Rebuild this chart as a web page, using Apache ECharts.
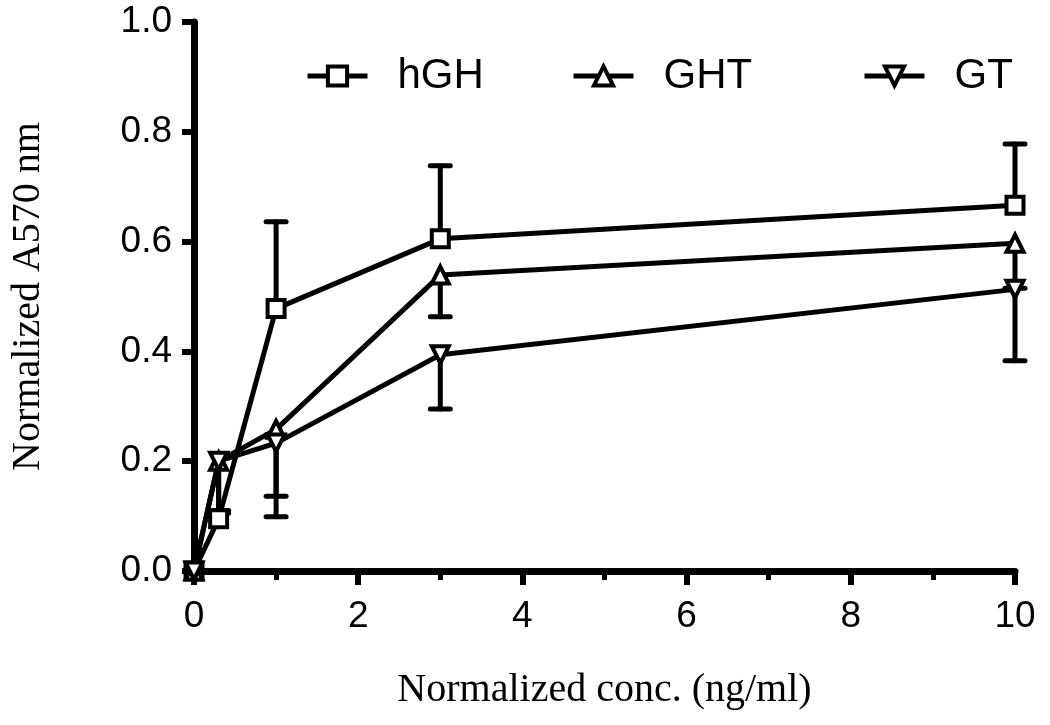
<!DOCTYPE html>
<html>
<head>
<meta charset="utf-8">
<script src="https://cdn.jsdelivr.net/npm/echarts@6/dist/echarts.min.js"></script>
<style>
  html, body { margin: 0; padding: 0; background: #fff; }
  #chart { width: 1050px; height: 725px; }
</style>
</head>
<body>
<div id="chart"></div>
<script>
  // concentrations (ng/ml)
  var conc = [0, 0.3, 1, 3, 10]
  var seriesNames = ['hGH', 'GHT', 'GT']
  // normalized A570 means
  var hGH = [0, 0.095, 0.478, 0.605, 0.666]
  var GHT = [0, 0.2, 0.258, 0.539, 0.597]
  var GT = [0, 0.2, 0.233, 0.394, 0.513]
  // error bar ends (hGH drawn above, GHT / GT drawn below)
  var hGHErr = [null, null, 0.636, 0.738, 0.778]
  var GHTErr = [null, 0.11, 0.136, 0.463, 0.515]
  var GTErr = [null, 0.105, 0.099, 0.295, 0.383]
  var yTicks = ['0.0', '0.2', '0.4', '0.6', '0.8', '1.0']

  var chart = echarts.init(document.getElementById('chart'))

  function pairs (ys) {
    return conc.map(function (x, i) { return [x, ys[i]] })
  }

  function errData (ys, ends) {
    var out = []
    conc.forEach(function (x, i) {
      if (ends[i] != null) out.push([x, ys[i], ends[i]])
    })
    return out
  }

  function renderErr (params, api) {
    var p0 = api.coord([api.value(0), api.value(1)])
    var p1 = api.coord([api.value(0), api.value(2)])
    var capHalf = 10
    var style = { stroke: '#000', lineWidth: 5, lineCap: 'round' }
    return {
      type: 'group',
      children: [
        { type: 'line', shape: { x1: p0[0], y1: p0[1], x2: p1[0], y2: p1[1] }, style: style },
        { type: 'line', shape: { x1: p1[0] - capHalf, y1: p1[1], x2: p1[0] + capHalf, y2: p1[1] }, style: style }
      ]
    }
  }

  function lineSeries (name, ys, symbol, rotate) {
    return {
      name: name,
      type: 'line',
      data: pairs(ys),
      symbol: symbol,
      symbolSize: 17,
      symbolRotate: rotate || 0,
      showAllSymbol: true,
      clip: false,
      z: 3,
      lineStyle: { color: '#000', width: 5 },
      itemStyle: { color: '#fff', borderColor: '#000', borderWidth: 4 }
    }
  }

  function errSeries (ys, ends) {
    return {
      type: 'custom',
      data: errData(ys, ends),
      renderItem: renderErr,
      encode: { x: 0, y: [1, 2] },
      clip: false,
      silent: true,
      z: 2
    }
  }

  var legendBase = {
    orient: 'horizontal',
    top: 50,
    itemWidth: 60,
    itemHeight: 24,
    selectedMode: false,
    lineStyle: { color: '#000', width: 5 },
    itemStyle: { color: '#fff', borderColor: '#000', borderWidth: 4 },
    textStyle: {
      fontFamily: 'Liberation Sans',
      fontSize: 42,
      color: '#000',
      padding: [0, 0, 0, 25]
    }
  }

  var option = {
    animation: false,
    backgroundColor: '#fff',
    grid: { left: 193, right: 35, top: 22, bottom: 154 },
    legend: [
      Object.assign({}, legendBase, { left: 300, data: [seriesNames[0]] }),
      Object.assign({}, legendBase, { left: 566, data: [seriesNames[1]] }),
      Object.assign({}, legendBase, { left: 857, data: [seriesNames[2]] })
    ],
    xAxis: {
      type: 'value',
      min: 0,
      max: 10,
      interval: 2,
      name: 'Normalized conc. (ng/ml)',
      nameLocation: 'middle',
      nameGap: 99,
      nameTextStyle: { fontFamily: 'Liberation Serif', fontSize: 40, color: '#000' },
      axisLine: { lineStyle: { color: '#000', width: 7 } },
      axisTick: { inside: false, length: 14, lineStyle: { color: '#000', width: 6 } },
      minorTick: { show: true, splitNumber: 2, length: 9, lineStyle: { color: '#000', width: 5 } },
      splitLine: { show: false },
      axisLabel: { margin: 27, fontFamily: 'Liberation Sans', fontSize: 37, color: '#000' }
    },
    yAxis: {
      type: 'value',
      min: 0,
      max: 1,
      interval: 0.2,
      name: 'Normalized A570 nm',
      nameLocation: 'middle',
      nameRotate: 90,
      nameGap: 146,
      nameTextStyle: { fontFamily: 'Liberation Serif', fontSize: 40, color: '#000' },
      axisLine: { show: true, lineStyle: { color: '#000', width: 7 } },
      axisTick: { show: true, inside: false, length: 12, lineStyle: { color: '#000', width: 6 } },
      splitLine: { show: false },
      axisLabel: {
        margin: 22,
        fontFamily: 'Liberation Sans',
        fontSize: 37,
        color: '#000',
        formatter: function (v) { return yTicks[Math.round(v * 5)] }
      }
    },
    series: [
      errSeries(hGH, hGHErr),
      errSeries(GHT, GHTErr),
      errSeries(GT, GTErr),
      lineSeries(seriesNames[0], hGH, 'rect'),
      lineSeries(seriesNames[1], GHT, 'triangle'),
      lineSeries(seriesNames[2], GT, 'triangle', 180)
    ]
  }
  chart.setOption(option)
</script>
</body>
</html>
